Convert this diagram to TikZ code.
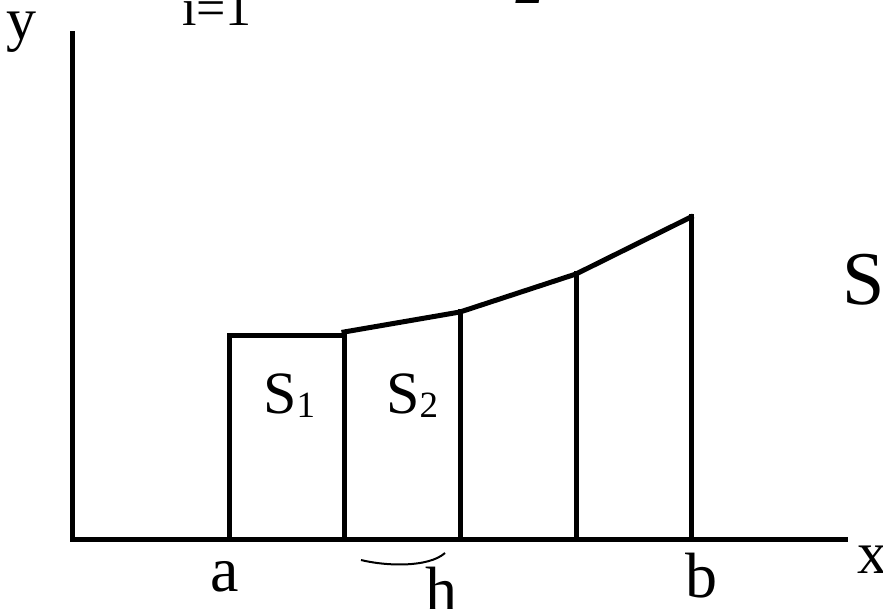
\documentclass[tikz,border=0pt]{standalone}
\usepackage{fontspec}
\setmainfont{Liberation Serif}
\tikzset{
  ln/.style={line width=5pt, line cap=rect},
  lbl/.style={anchor=base, inner sep=0pt, font=\fontsize{64}{72}\selectfont},
  area/.style={anchor=base west, inner sep=0pt, font=\fontsize{60}{72}\selectfont},
}
\newcommand{\sbs}[1]{{\fontsize{37}{40}\selectfont\raisebox{-4pt}{#1}}}
\begin{document}
\begin{tikzpicture}[x=1pt,y=-1pt]
\clip (0,0) rectangle (883,609);
\fill[white] (0,0) rectangle (883,609);
% axes
\coordinate (O) at (72,539);
\coordinate (Ytop) at (72,34);
\coordinate (Xend) at (845,539);
\draw[ln] (Ytop) -- (O) -- (Xend);
% verticals
\coordinate (b0) at (229,539); \coordinate (t0) at (229,336);
\coordinate (b1) at (344,539); \coordinate (t1a) at (344,336); \coordinate (t1) at (344,332);
\coordinate (b2) at (460,539); \coordinate (t2) at (460,312);
\coordinate (b3) at (576,539); \coordinate (t3) at (576,274);
\coordinate (b4) at (691,539); \coordinate (t4) at (691,217);
\draw[ln] (b0) -- (t0) -- (t1a) -- (b1);
\draw[ln] (t1) -- (t2) -- (t3) -- (t4);
\draw[ln] (b2) -- (t2);
\draw[ln] (b3) -- (t3);
\draw[ln] (b4) -- (t4);
% h brace
\coordinate (h1) at (361,560);
\coordinate (h2) at (445,553);
\draw[line width=2pt] (h1) .. controls (385,566) and (428,568) .. (h2);
% labels
\node[anchor=base, inner sep=0pt, font=\fontsize{60}{72}\selectfont] (ly) at (21,40) {y};
\node[anchor=base, inner sep=0pt, font=\fontsize{60}{72}\selectfont] (lx) at (872,573) {x};
\node[lbl] (la) at (225,591) {a};
\node[lbl] (lb) at (701,597) {b};
\node[lbl] (lh) at (441,611) {h};
\node[area] (s1) at (263,413) {S\sbs{1}};
\node[area] (s2) at (386,413) {S\sbs{2}};
\node[anchor=base, inner sep=0pt, font=\fontsize{76}{80}\selectfont] (S) at (864,305) {S};
\node[anchor=base, inner sep=0pt, font=\fontsize{52}{56}\selectfont] (sum) at (217,26) {i=1};
\node[anchor=base, inner sep=0pt, font=\fontsize{56}{60}\selectfont\bfseries\itshape] (two) at (530,4) {2};
\end{tikzpicture}
\end{document}
